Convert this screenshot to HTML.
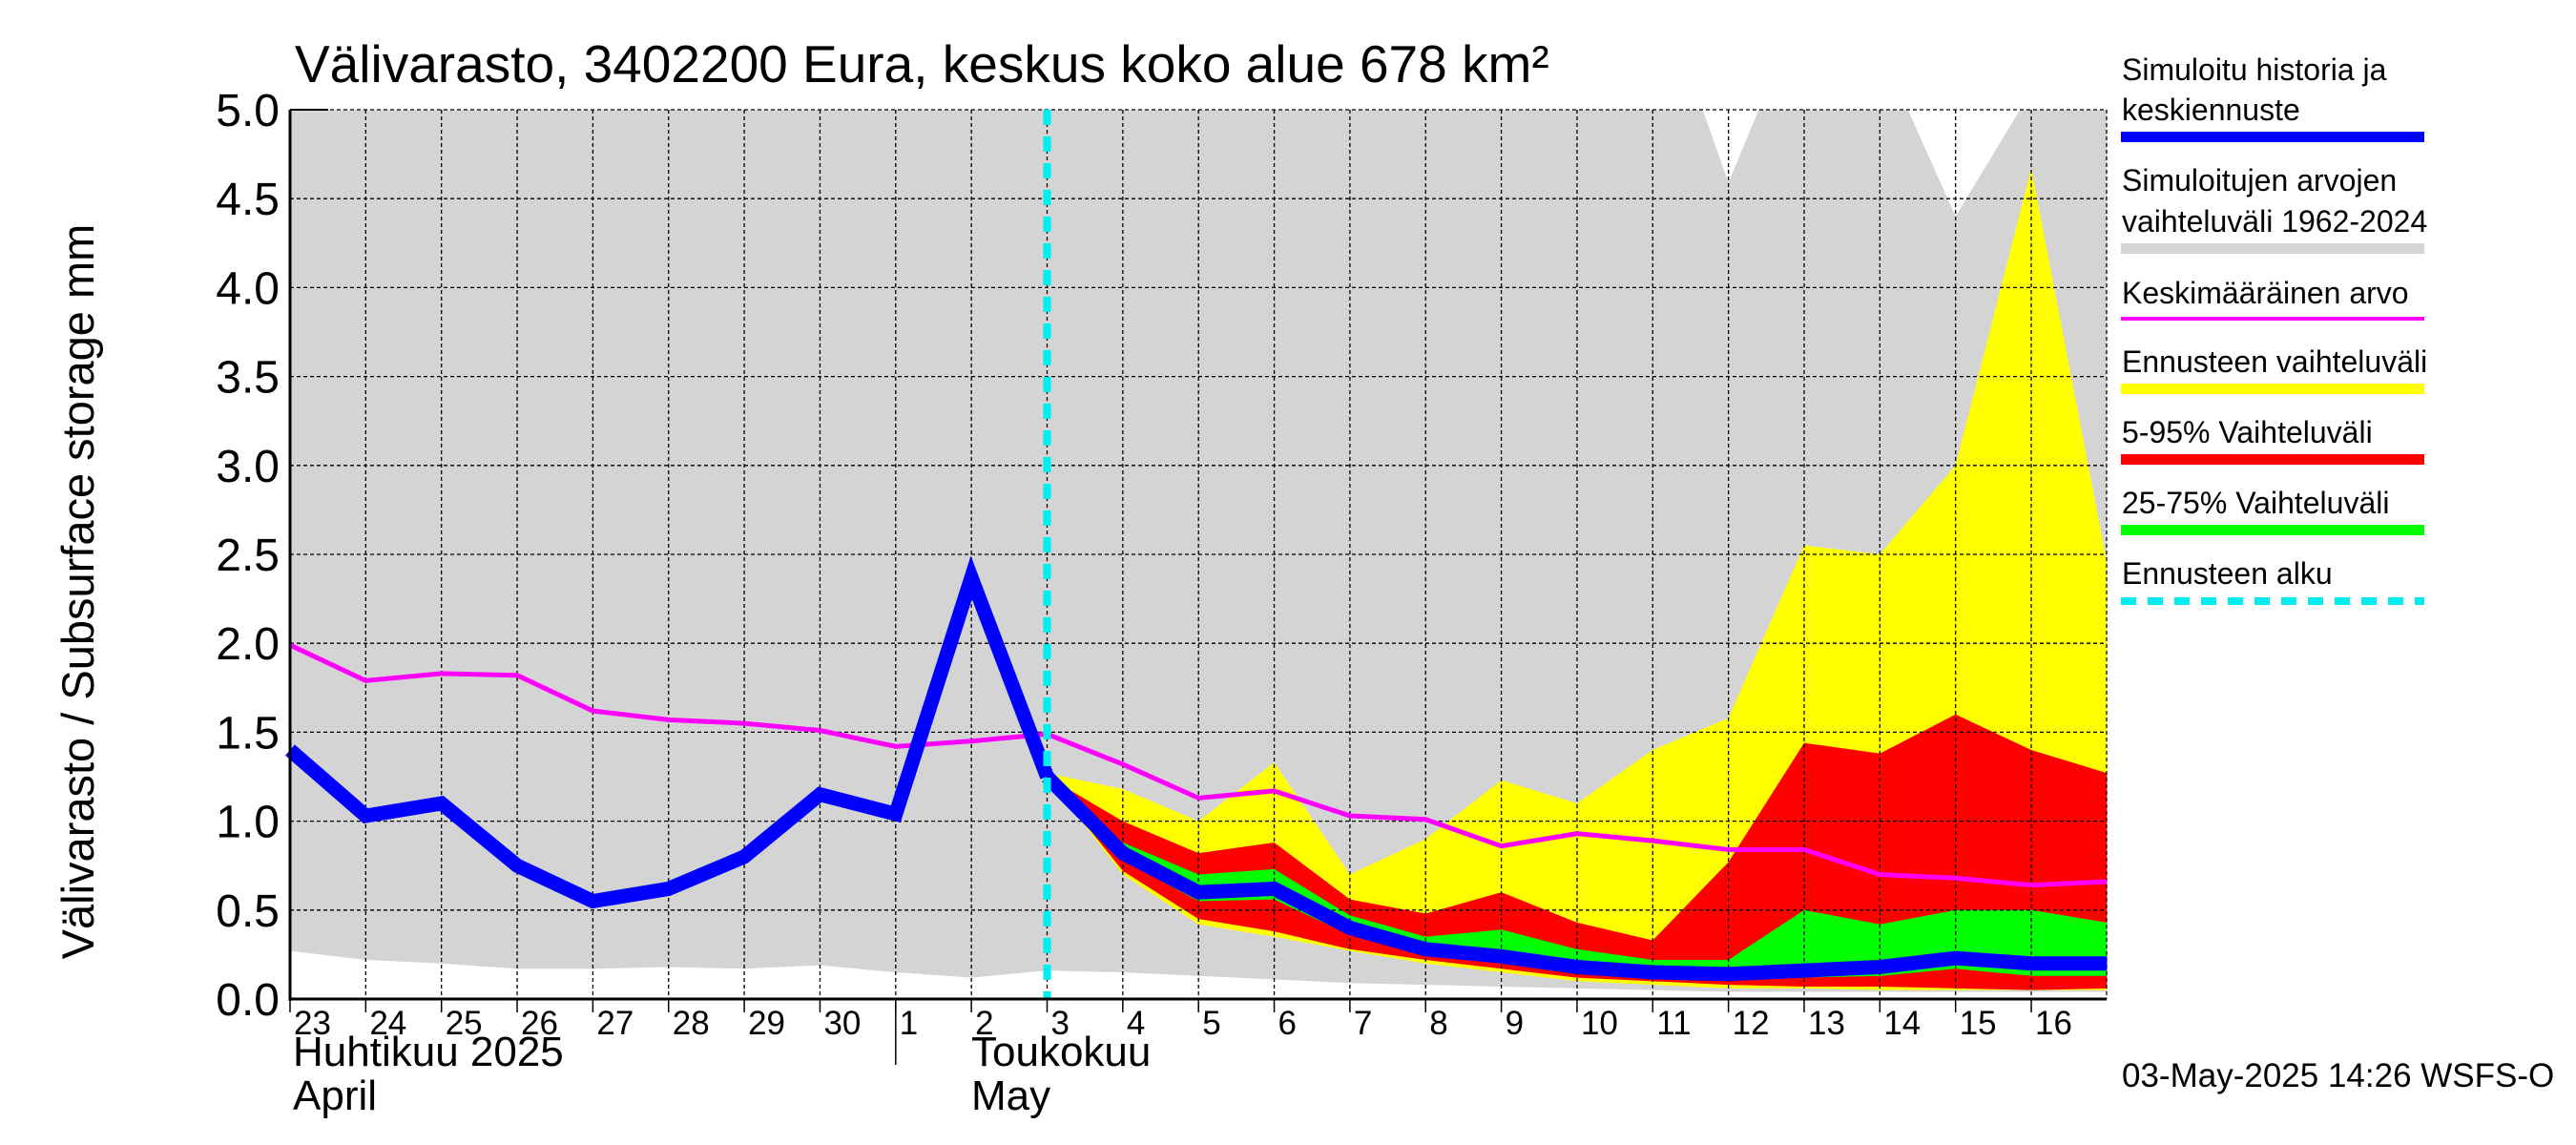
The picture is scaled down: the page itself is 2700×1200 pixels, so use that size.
<!DOCTYPE html>
<html><head><meta charset="utf-8"><style>
html,body{margin:0;padding:0;background:#fff;}
svg{display:block;font-family:"Liberation Sans",Arial,sans-serif;}
</style></head><body>
<svg id="chart" width="2700" height="1200" viewBox="0 0 2700 1200"></svg>
<script>
const dayLabels=["23","24","25","26","27","28","29","30","1","2","3","4","5","6","7","8","9","10","11","12","13","14","15","16"];
const yTicks=[0,0.5,1,1.5,2,2.5,3,3.5,4,4.5,5];
const histBlue=[1.4,1.03,1.1,0.75,0.55,0.62,0.8,1.15,1.04,2.37,1.25];
const fcBlue=[1.25,0.82,0.6,0.62,0.4,0.28,0.24,0.18,0.15,0.14,0.16,0.18,0.23,0.2,0.2];
const meanVals=[1.99,1.79,1.83,1.82,1.62,1.57,1.55,1.51,1.42,1.45,1.49,1.32,1.13,1.17,1.03,1.01,0.86,0.93,0.89,0.84,0.84,0.7,0.68,0.64,0.66];
const greyLow=[0.27,0.22,0.2,0.17,0.17,0.18,0.17,0.19,0.15,0.12,0.16,0.15,0.13,0.11,0.09,0.08,0.07,0.06,0.05,0.04,0.04,0.04,0.04,0.04,0.04];
const greyHighX=[0,18.66,19,19.4,21.37,22,22.85,24];
const greyHighV=[5,5,4.59,5,5,4.4,5,5];
const yelHigh=[1.27,1.18,1.0,1.33,0.7,0.9,1.23,1.1,1.4,1.58,2.55,2.5,3.0,4.67,2.45];
const yelLow=[1.25,0.7,0.42,0.35,0.27,0.2,0.15,0.1,0.08,0.06,0.06,0.05,0.05,0.05,0.05];
const redHigh=[1.25,1.0,0.82,0.88,0.56,0.48,0.6,0.43,0.33,0.77,1.44,1.38,1.6,1.4,1.27];
const redLow=[1.25,0.72,0.45,0.38,0.28,0.22,0.17,0.12,0.1,0.08,0.07,0.07,0.06,0.05,0.06];
const grnHigh=[1.25,0.88,0.7,0.73,0.47,0.35,0.39,0.28,0.22,0.22,0.5,0.42,0.5,0.5,0.43];
const grnLow=[1.25,0.78,0.55,0.56,0.36,0.27,0.22,0.17,0.14,0.12,0.12,0.13,0.17,0.13,0.13];
const fcStart=10;

const L=304,R=2208,T=115,B=1047,DX=79.35;
const X=i=>L+i*DX;
const Y=v=>B-(v/5)*(B-T);
const svg=document.getElementById('chart');
const NS='http://www.w3.org/2000/svg';
function mk(tag,attrs,parent){const e=document.createElementNS(NS,tag);for(const k in attrs)e.setAttribute(k,attrs[k]);(parent||svg).appendChild(e);return e;}
function band(hi,lo,off,fill,name){
  let d='';hi.forEach((v,i)=>{d+=(i?'L':'M')+X(i+off)+','+Y(v);});
  for(let i=lo.length-1;i>=0;i--)d+='L'+X(i+off)+','+Y(lo[i]);
  const p=mk('path',{d:d+'Z',fill:fill});
  
  
}
function line(vals,off,stroke,w,name){
  const p=mk('polyline',{points:vals.map((v,i)=>X(i+off)+','+Y(v)).join(' '),fill:'none',stroke:stroke,'stroke-width':w,'stroke-linejoin':'miter'});
  
  
}
{
  let d='';greyHighX.forEach((x,i)=>{d+=(i?'L':'M')+X(x)+','+Y(greyHighV[i]);});
  for(let i=greyLow.length-1;i>=0;i--)d+='L'+X(i)+','+Y(greyLow[i]);
  const p=mk('path',{d:d+'Z',fill:'#d4d4d4'});
  
  
}
band(yelHigh,yelLow,fcStart,'#ffff00','forecast-range-band');
band(redHigh,redLow,fcStart,'#ff0000','band-5-95');
band(grnHigh,grnLow,fcStart,'#00ff00','band-25-75');
yTicks.forEach(v=>{const g=mk('line',{x1:L,x2:R,y1:Y(v),y2:Y(v),stroke:'#000','stroke-width':1.3,'stroke-dasharray':'4,3'});
  
  });
dayLabels.forEach((t,i)=>{const g=mk('line',{x1:X(i),x2:X(i),y1:T,y2:B,stroke:'#000','stroke-width':1.3,'stroke-dasharray':'4,3'});
  
  });
mk('line',{x1:R,x2:R,y1:T,y2:B,stroke:'#000','stroke-width':1.3,'stroke-dasharray':'4,3'});
line(meanVals,0,'#ff00ff',5,'mean-line');
line(histBlue,0,'#0000ff',15,'history-line');
line(fcBlue,fcStart,'#0000ff',15,'median-forecast-line');
{const c=mk('line',{x1:X(fcStart),x2:X(fcStart),y1:T,y2:B,stroke:'#00eeee','stroke-width':8,'stroke-dasharray':'16,12'});

}
mk('line',{x1:L,x2:L,y1:T,y2:B+2,stroke:'#000','stroke-width':3});
mk('line',{x1:L,x2:R,y1:B,y2:B,stroke:'#000','stroke-width':3});
mk('line',{x1:L,x2:L+40,y1:T,y2:T,stroke:'#000','stroke-width':2});
yTicks.forEach(v=>{const t=mk('text',{x:293,y:Y(v)+17,'text-anchor':'end','font-size':48});t.textContent=v.toFixed(1);
  
  });
dayLabels.forEach((s,i)=>{mk('line',{x1:X(i),x2:X(i),y1:B,y2:B+14,stroke:'#000','stroke-width':1.5});
  const t=mk('text',{x:X(i)+4,y:B+37,'font-size':35});t.textContent=s;
  
  });
mk('line',{x1:X(8),x2:X(8),y1:B,y2:1116,stroke:'#000','stroke-width':1.5});
</script>
<svg style="position:absolute;left:0;top:0" width="2700" height="1200">
<g font-family="Liberation Sans, Arial, sans-serif">
<text x="309" y="86" font-size="55">Välivarasto, 3402200 Eura, keskus koko alue 678 km²</text>
<text transform="translate(98,620) rotate(-90)" text-anchor="middle" font-size="47">Välivarasto / Subsurface storage  mm</text>
<text x="307" y="1117" font-size="44">Huhtikuu  2025</text>
<text x="307" y="1163" font-size="44">April</text>
<text x="1018" y="1117" font-size="44">Toukokuu</text>
<text x="1018" y="1163" font-size="44">May</text>
<g font-size="32">
<text x="2224" y="84">Simuloitu historia ja</text>
<text x="2224" y="126">keskiennuste</text>
<rect x="2223" y="138" width="318" height="11" fill="#0000ff"/>
<text x="2224" y="200">Simuloitujen arvojen</text>
<text x="2224" y="243">vaihteluväli 1962-2024</text>
<rect x="2223" y="255" width="318" height="11" fill="#d4d4d4"/>
<text x="2224" y="318">Keskimääräinen arvo</text>
<rect x="2223" y="332" width="318" height="4" fill="#ff00ff"/>
<text x="2224" y="390">Ennusteen vaihteluväli</text>
<rect x="2223" y="402" width="318" height="11" fill="#ffff00"/>
<text x="2224" y="464">5-95% Vaihteluväli</text>
<rect x="2223" y="476" width="318" height="11" fill="#ff0000"/>
<text x="2224" y="538">25-75% Vaihteluväli</text>
<rect x="2223" y="550" width="318" height="11" fill="#00ff00"/>
<text x="2224" y="612">Ennusteen alku</text>
<line x1="2223" x2="2541" y1="630" y2="630" stroke="#00eeee" stroke-width="8" stroke-dasharray="16,12"/>
</g>
<text x="2224" y="1139" font-size="35">03-May-2025 14:26 WSFS-O</text>
</g>
</svg>
</body></html>
